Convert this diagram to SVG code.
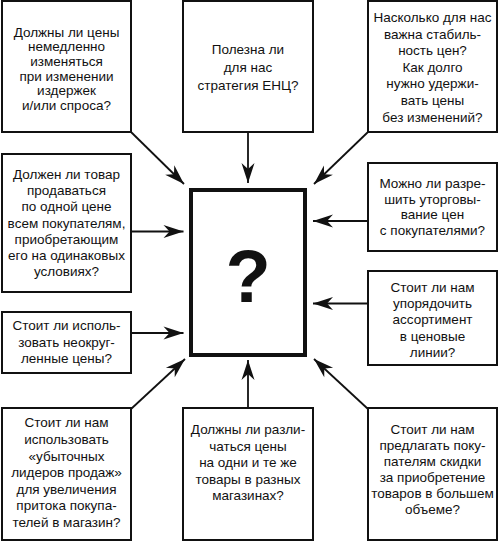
<svg xmlns="http://www.w3.org/2000/svg" width="500" height="542" viewBox="0 0 500 542">
<style>
.box{fill:#fff;stroke:#111;stroke-width:2}
.core{fill:#fff;stroke:#111;stroke-width:4}
.t{font-family:"Liberation Sans",Arial,sans-serif;font-size:13.5px;fill:#111;text-anchor:middle}
.q{font-family:"Liberation Sans",Arial,sans-serif;font-size:74px;font-weight:bold;fill:#111;text-anchor:middle}
.c{stroke:#111;stroke-width:1.8;fill:none;marker-end:url(#ah)}
</style>
<defs>
<marker id="ah" viewBox="-21 -8 22 16" refX="0" refY="0" markerWidth="22" markerHeight="16" markerUnits="userSpaceOnUse" orient="auto">
<path d="M0,0 L-20,-6.5 L-14,0 L-20,6.5 Z" fill="#111"/>
</marker>
</defs>
<rect width="500" height="542" fill="#fff"/>
<g id="connectors">
<path class="c" d="M131,132 L184,184"/>
<path class="c" d="M248,132 L248,183"/>
<path class="c" d="M368,132 L314,184"/>
<path class="c" d="M131,231.5 L183.5,231.5"/>
<path class="c" d="M131,333 L183.5,333"/>
<path class="c" d="M368,221 L313,221"/>
<path class="c" d="M368,303.5 L313,303.5"/>
<path class="c" d="M131,409 L185,359"/>
<path class="c" d="M248,409 L248,360"/>
<path class="c" d="M368,409 L314,359"/>
</g>
<g id="center">
<rect class="core" x="191" y="190" width="114" height="165"/>
<text class="q" x="248" y="302">?</text>
</g>
<g id="n1">
<rect class="box" x="2" y="1" width="129" height="131"/>
<text class="t" x="66.5" y="36.5">Должны ли цены</text>
<text class="t" x="66.5" y="51.2">немедленно</text>
<text class="t" x="66.5" y="65.9">изменяться</text>
<text class="t" x="66.5" y="80.6">при изменении</text>
<text class="t" x="66.5" y="95.3">издержек</text>
<text class="t" x="66.5" y="110">и/или спроса?</text>
</g>
<g id="n2">
<rect class="box" x="183" y="1" width="130" height="131"/>
<text class="t" x="248" y="53.5">Полезна ли</text>
<text class="t" x="248" y="71.7">для нас</text>
<text class="t" x="248" y="90">стратегия ЕНЦ?</text>
</g>
<g id="n3">
<rect class="box" x="368" y="1" width="129" height="131"/>
<text class="t" x="432.5" y="22">Насколько для нас</text>
<text class="t" x="432.5" y="38.6">важна стабиль-</text>
<text class="t" x="432.5" y="55.2">ность цен?</text>
<text class="t" x="432.5" y="71.8">Как долго</text>
<text class="t" x="432.5" y="88.4">нужно удержи-</text>
<text class="t" x="432.5" y="105">вать цены</text>
<text class="t" x="432.5" y="121.6">без изменений?</text>
</g>
<g id="n4">
<rect class="box" x="2" y="154" width="129" height="138"/>
<text class="t" x="66.5" y="178.5">Должен ли товар</text>
<text class="t" x="66.5" y="195">продаваться</text>
<text class="t" x="66.5" y="211">по одной цене</text>
<text class="t" x="66.5" y="227.5">всем покупателям,</text>
<text class="t" x="66.5" y="243.5">приобретающим</text>
<text class="t" x="66.5" y="260">его на одинаковых</text>
<text class="t" x="66.5" y="276">условиях?</text>
</g>
<g id="n5">
<rect class="box" x="2" y="312" width="129" height="61"/>
<text class="t" x="66.5" y="330">Стоит ли исполь-</text>
<text class="t" x="66.5" y="346.5">зовать неокруг-</text>
<text class="t" x="66.5" y="363">ленные цены?</text>
</g>
<g id="n6">
<rect class="box" x="368" y="163" width="129" height="88"/>
<text class="t" x="432.5" y="187.7">Можно ли разре-</text>
<text class="t" x="432.5" y="203.5">шить уторговы-</text>
<text class="t" x="432.5" y="219.3">вание цен</text>
<text class="t" x="432.5" y="235">с покупателями?</text>
</g>
<g id="n7">
<rect class="box" x="368" y="271" width="129" height="94"/>
<text class="t" x="432.5" y="291.7">Стоит ли нам</text>
<text class="t" x="432.5" y="308">упорядочить</text>
<text class="t" x="432.5" y="324.2">ассортимент</text>
<text class="t" x="432.5" y="340.5">в ценовые</text>
<text class="t" x="432.5" y="356.7">линии?</text>
</g>
<g id="n8">
<rect class="box" x="2" y="408" width="129" height="132"/>
<text class="t" x="66.5" y="427.3">Стоит ли нам</text>
<text class="t" x="66.5" y="444">использовать</text>
<text class="t" x="66.5" y="460.6">«убыточных</text>
<text class="t" x="66.5" y="477.2">лидеров продаж»</text>
<text class="t" x="66.5" y="493.8">для увеличения</text>
<text class="t" x="66.5" y="510.4">притока покупа-</text>
<text class="t" x="66.5" y="527">телей в магазин?</text>
</g>
<g id="n9">
<rect class="box" x="183" y="408" width="130" height="132"/>
<text class="t" x="248" y="434">Должны ли разли-</text>
<text class="t" x="248" y="450.5">чаться цены</text>
<text class="t" x="248" y="467">на одни и те же</text>
<text class="t" x="248" y="483.5">товары в разных</text>
<text class="t" x="248" y="500">магазинах?</text>
</g>
<g id="n10">
<rect class="box" x="368" y="408" width="129" height="132"/>
<text class="t" x="432.5" y="434">Стоит ли нам</text>
<text class="t" x="432.5" y="450">предлагать поку-</text>
<text class="t" x="432.5" y="466">пателям скидки</text>
<text class="t" x="432.5" y="482">за приобретение</text>
<text class="t" x="432.5" y="498">товаров в большем</text>
<text class="t" x="432.5" y="514">объеме?</text>
</g>
</svg>
